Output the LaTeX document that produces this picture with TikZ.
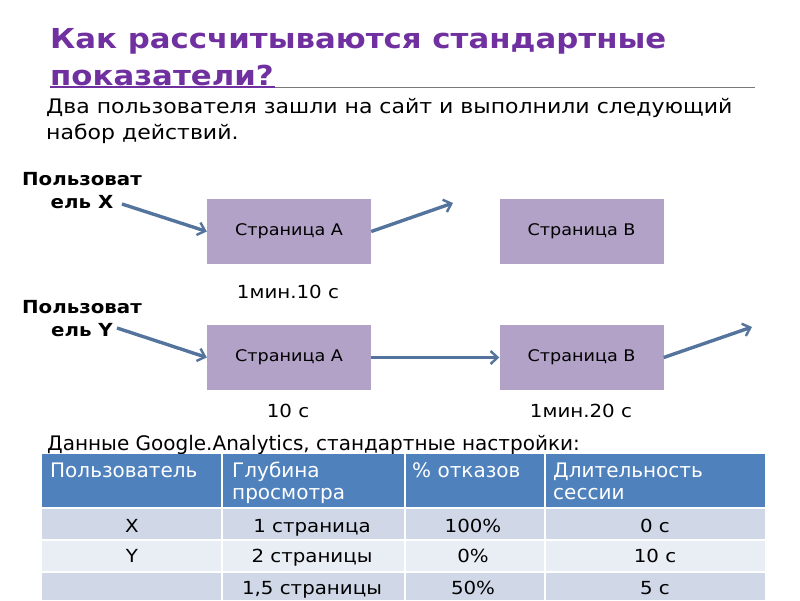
\documentclass[tikz,border=0pt]{standalone}
\usepackage{fontspec}
\setmainfont{DejaVu Sans}
\newfontfamily\bodyfont{DejaVu Sans}[FakeStretch=1.1]
\newfontfamily\titlefont{DejaVu Sans}[FakeStretch=1.12]
\usetikzlibrary{arrows.meta,positioning}
\definecolor{titlec}{RGB}{112,48,160}
\definecolor{boxc}{RGB}{178,162,199}
\definecolor{arrowc}{RGB}{84,116,158}
\definecolor{headc}{RGB}{79,129,189}
\definecolor{rowa}{RGB}{208,216,232}
\definecolor{rowb}{RGB}{233,237,244}
\definecolor{rulec}{RGB}{120,120,120}
\tikzset{
  page/.style={fill=boxc,minimum width=164pt,minimum height=65pt,inner sep=0pt,font=\bodyfont\fontsize{16}{18}\selectfont},
  visit/.style={-{Straight Barb[length=7pt,width=13pt,line width=2.4pt]},arrowc,line width=3.4pt},
  user/.style={font=\bodyfont\fontsize{18}{23}\selectfont\bfseries,align=center,inner sep=0pt,anchor=base},
  dur/.style={font=\bodyfont\fontsize{18}{20}\selectfont,inner sep=0pt,anchor=base},
  body/.style={font=\bodyfont\fontsize{20}{26}\selectfont,align=left,anchor=base west,inner sep=0pt},
  thead/.style={font=\fontsize{20}{22}\selectfont,text=white,align=left,anchor=base west,inner sep=0pt},
  tcell/.style={font=\bodyfont\fontsize{18}{20}\selectfont,inner sep=0pt,anchor=base},
}
\begin{document}
\begin{tikzpicture}[x=1pt,y=-1pt]
\useasboundingbox[fill=white] (0,0) rectangle (800,600);
% ---- title (base = last line) ----
\node[font=\titlefont\fontsize{27.5}{37}\selectfont\bfseries,text=titlec,anchor=base west,inner sep=0pt,align=left] (title) at (50,85)
  {Как рассчитываются стандартные\\показатели?};
\draw[titlec,line width=1.4pt] (50,87) -- (275,87);
\draw[rulec,line width=0.7pt] (275,87) -- (755,87);
\node[body] (intro) at (46,139) {Два пользователя зашли на сайт и выполнили следующий\\набор действий.};

% ---- pages ----
\node[page] (ax) at (289,231.5) {Страница А};
\node[page] (bx) at (581.5,231.5) {Страница В};
\node[page] (ay) at (289,357.5) {Страница А};
\node[page] (by) at (581.5,357.5) {Страница В};

\node[user] (ux) at (82,208) {Пользоват\\ель X};
\node[user] (uy) at (82,336) {Пользоват\\ель Y};

\node[dur] (tax) at (288,298) {1мин.10 с};
\node[dur] (tay) at (288,417) {10 с};
\node[dur] (tby) at (581,417) {1мин.20 с};

% visits
\coordinate (xin) at (122,204);
\coordinate (yin) at (117,328);
\coordinate (xout) at (453,203);
\coordinate (yout) at (752,327);
\draw[visit] (xin) -- (ax.west);
\draw[visit] (ax.east) -- (xout);
\draw[visit] (yin) -- (ay.west);
\draw[visit] (ay.east) -- (by.west);
\draw[visit] (by.east) -- (yout);

% ---- table ----
\node[font=\fontsize{20}{22}\selectfont,anchor=base west,inner sep=0pt] (ganote) at (47,450) {Данные Google.Analytics, стандартные настройки:};
\fill[headc] (42,454) rectangle (765,508);
\foreach \ya/\yb/\c in {508/540/rowa,540/572/rowb,572/600/rowa}{
  \fill[\c] (42,\ya) rectangle (765,\yb);
}
\foreach \xx in {222,405,545}{
  \draw[white,line width=1.5pt] (\xx,454) -- (\xx,600);
}
\foreach \yy in {508,540,572}{
  \draw[white,line width=1.5pt] (42,\yy) -- (765,\yy);
}
\node[thead] (h1) at (50,477) {Пользователь};
\node[thead] (h2) at (232,499) {Глубина\\просмотра};
\node[thead] (h3) at (412,477) {\% отказов};
\node[thead] (h4) at (553,499) {Длительность\\сессии};
\foreach \yy/\a/\b/\cc/\d [count=\r] in {532/X/1 страница/100\%/0 с, 562/Y/2 страницы/0\%/10 с, 594/{}/{1,5 страницы}/50\%/5 с}{
  \node[tcell] (c\r-1) at (132,\yy) {\a};
  \node[tcell] (c\r-2) at (312,\yy) {\b};
  \node[tcell] (c\r-3) at (473,\yy) {\cc};
  \node[tcell] (c\r-4) at (655,\yy) {\d};
}
\end{tikzpicture}
\end{document}
